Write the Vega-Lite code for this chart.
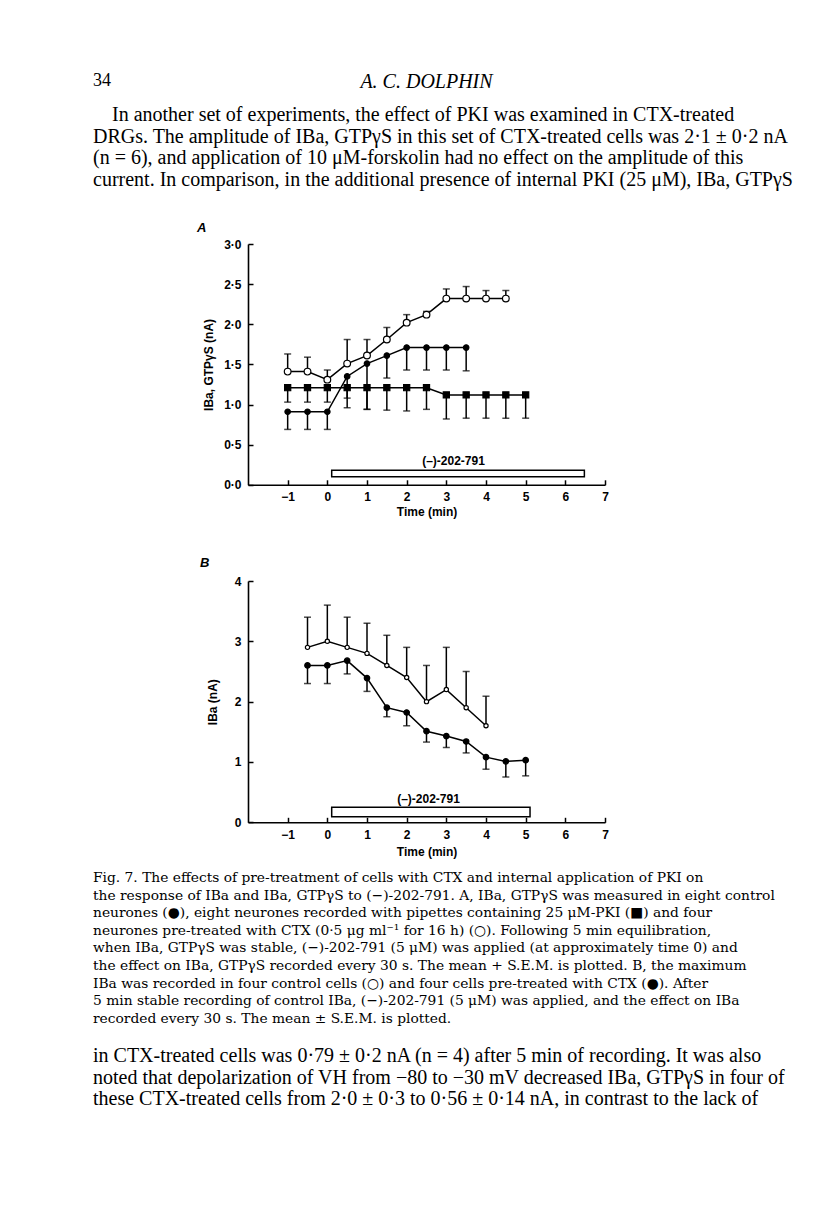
{
  "$schema": "https://vega.github.io/schema/vega-lite/v6.json",
  "background": "white",
  "padding": {"left": 93, "top": 72, "right": 0, "bottom": 0},
  "autosize": {"type": "pad"},
  "spacing": 0,
  "bounds": "flush",
  "center": true,
  "resolve": {"scale": {"fill": "independent", "shape": "independent", "size": "independent"}},
  "config": {
    "view": {"stroke": null},
    "axis": {
      "grid": false,
      "domainColor": "black",
      "domainWidth": 1.6,
      "tickColor": "black",
      "tickWidth": 1.5,
      "tickSize": -5,
      "labelFont": "Liberation Sans",
      "labelFontWeight": "bold",
      "labelFontSize": 12,
      "labelColor": "black",
      "labelPadding": 12,
      "labelFlush": false,
      "labelOverlap": false,
      "titleFont": "Liberation Sans",
      "titleFontWeight": "bold",
      "titleFontSize": 12,
      "titleColor": "black"
    }
  },
  "vconcat": [
    {
      "width": 667,
      "height": 32.6,
      "layer": [
        {
          "data": {"values": [{"txt": "34"}]},
          "mark": {"type": "text", "align": "left", "baseline": "top", "font": "Liberation Serif", "fontSize": 18, "color": "black"},
          "encoding": {"text": {"field": "txt"}, "x": {"value": 0}, "y": {"value": 0}}
        },
        {
          "data": {"values": [{"txt": "A. C. DOLPHIN"}]},
          "mark": {"type": "text", "align": "center", "baseline": "top", "font": "Liberation Serif", "fontStyle": "italic", "fontSize": 20, "color": "black"},
          "encoding": {"text": {"field": "txt"}, "y": {"value": 0}}
        }
      ]
    },
    {
      "width": 667,
      "height": 138.9,
      "layer": [
        {
          "data": {"values": [{"lines": [
            "In another set of experiments, the effect of PKI was examined in CTX-treated"
          ]}]},
          "mark": {"type": "text", "align": "left", "baseline": "top", "dx": 19, "font": "Liberation Serif", "fontSize": 20, "lineHeight": 21.7, "color": "black"},
          "encoding": {"text": {"field": "lines"}, "x": {"value": 0}, "y": {"value": 0}}
        },
        {
          "data": {"values": [{"lines": [
            "",
            "DRGs. The amplitude of IBa, GTPγS in this set of CTX-treated cells was 2·1 ± 0·2 nA",
            "(n = 6), and application of 10 μM-forskolin had no effect on the amplitude of this",
            "current. In comparison, in the additional presence of internal PKI (25 μM), IBa, GTPγS"
          ]}]},
          "mark": {"type": "text", "align": "left", "baseline": "top", "font": "Liberation Serif", "fontSize": 20, "lineHeight": 21.7, "color": "black"},
          "encoding": {"text": {"field": "lines"}, "x": {"value": 0}, "y": {"value": 0}}
        }
      ]
    },
    {
      "width": 357,
      "height": 240.8,
      "title": {"text": "A", "anchor": "start", "frame": "group", "dx": -51, "offset": 3, "font": "Liberation Sans", "fontSize": 13, "fontStyle": "italic", "fontWeight": "bold", "color": "black"},
      "layer": [
        {
          "data": {"values": [{"t": 0.11, "t2": 6.48, "v": 0.10, "v2": 0.18}]},
          "mark": {"type": "rect", "fill": "white", "stroke": "black", "strokeWidth": 1.5},
          "encoding": {
            "x": {"field": "t", "type": "quantitative", "scale": {"domain": [-2, 7], "nice": false, "zero": false}, "axis": {"values": [-1, 0, 1, 2, 3, 4, 5, 6, 7], "format": "d", "title": "Time (min)", "titlePadding": 4}},
            "x2": {"field": "t2"},
            "y": {"field": "v", "type": "quantitative", "scale": {"domain": [0, 3], "nice": false}, "axis": {"values": [0, 0.5, 1, 1.5, 2, 2.5, 3], "labelExpr": "replace(format(datum.value, '.1f'), '.', '·')", "title": "IBa, GTPγS (nA)", "titlePadding": 8}},
            "y2": {"field": "v2"}
          }
        },
        {
          "data": {"values": [{"t": 3.18, "v": 0.30, "label": "(–)-202-791"}]},
          "mark": {"type": "text", "font": "Liberation Sans", "fontWeight": "bold", "fontSize": 12, "color": "black"},
          "encoding": {
            "x": {"field": "t", "type": "quantitative"},
            "y": {"field": "v", "type": "quantitative"},
            "text": {"field": "label"}
          }
        },
        {
          "data": {"name": "A"},
          "layer": [
            {
              "mark": {"type": "line", "color": "black", "strokeWidth": 1.5},
              "encoding": {
                "x": {"field": "t", "type": "quantitative"},
                "y": {"field": "v", "type": "quantitative"},
                "detail": {"field": "s"}
              }
            },
            {
              "mark": {"type": "rule", "color": "black", "strokeWidth": 1.5},
              "encoding": {
                "x": {"field": "t", "type": "quantitative"},
                "y": {"field": "v", "type": "quantitative"},
                "y2": {"field": "e"}
              }
            },
            {
              "mark": {"type": "tick", "orient": "horizontal", "color": "black", "size": 7, "thickness": 1.5},
              "encoding": {
                "x": {"field": "t", "type": "quantitative"},
                "y": {"field": "e", "type": "quantitative", "title": "IBa, GTPγS (nA)"}
              }
            },
            {
              "mark": {"type": "point", "filled": true, "stroke": "black", "strokeWidth": 1.2, "opacity": 1},
              "encoding": {
                "x": {"field": "t", "type": "quantitative"},
                "y": {"field": "v", "type": "quantitative"},
                "shape": {"field": "s", "scale": {"domain": ["control", "PKI", "CTX"], "range": ["circle", "square", "circle"]}, "legend": null},
                "fill": {"field": "s", "scale": {"domain": ["control", "PKI", "CTX"], "range": ["black", "black", "white"]}, "legend": null},
                "size": {"field": "s", "scale": {"domain": ["control", "PKI", "CTX"], "range": [30, 45, 18]}, "legend": null}
              }
            }
          ]
        }
      ]
    },
    {
      "width": 667,
      "height": 95.4,
      "data": {"values": [{}]},
      "mark": {"type": "text"},
      "encoding": {"text": {"value": ""}}
    },
    {
      "width": 357,
      "height": 241.3,
      "title": {"text": "B", "anchor": "start", "frame": "group", "dx": -48, "offset": 5, "font": "Liberation Sans", "fontSize": 13, "fontStyle": "italic", "fontWeight": "bold", "color": "black"},
      "layer": [
        {
          "data": {"values": [{"t": 0.11, "t2": 5.11, "v": 0.09, "v2": 0.25}]},
          "mark": {"type": "rect", "fill": "white", "stroke": "black", "strokeWidth": 1.5},
          "encoding": {
            "x": {"field": "t", "type": "quantitative", "scale": {"domain": [-2, 7], "nice": false, "zero": false}, "axis": {"values": [-1, 0, 1, 2, 3, 4, 5, 6, 7], "format": "d", "title": "Time (min)", "titlePadding": 6}},
            "x2": {"field": "t2"},
            "y": {"field": "v", "type": "quantitative", "scale": {"domain": [0, 4], "nice": false}, "axis": {"values": [0, 1, 2, 3, 4], "format": "d", "title": "IBa (nA)", "titlePadding": 15}},
            "y2": {"field": "v2"}
          }
        },
        {
          "data": {"values": [{"t": 2.55, "v": 0.39, "label": "(–)-202-791"}]},
          "mark": {"type": "text", "font": "Liberation Sans", "fontWeight": "bold", "fontSize": 12, "color": "black"},
          "encoding": {
            "x": {"field": "t", "type": "quantitative"},
            "y": {"field": "v", "type": "quantitative"},
            "text": {"field": "label"}
          }
        },
        {
          "data": {"name": "B"},
          "layer": [
            {
              "mark": {"type": "line", "color": "black", "strokeWidth": 1.5},
              "encoding": {
                "x": {"field": "t", "type": "quantitative"},
                "y": {"field": "v", "type": "quantitative"},
                "detail": {"field": "s"}
              }
            },
            {
              "mark": {"type": "rule", "color": "black", "strokeWidth": 1.5},
              "encoding": {
                "x": {"field": "t", "type": "quantitative"},
                "y": {"field": "v", "type": "quantitative"},
                "y2": {"field": "e"}
              }
            },
            {
              "mark": {"type": "tick", "orient": "horizontal", "color": "black", "size": 7, "thickness": 1.5},
              "encoding": {
                "x": {"field": "t", "type": "quantitative"},
                "y": {"field": "e", "type": "quantitative", "title": "IBa (nA)"}
              }
            },
            {
              "mark": {"type": "point", "filled": true, "stroke": "black", "strokeWidth": 1.2, "opacity": 1},
              "encoding": {
                "x": {"field": "t", "type": "quantitative"},
                "y": {"field": "v", "type": "quantitative"},
                "shape": {"field": "s", "scale": {"domain": ["control", "CTX"], "range": ["circle", "circle"]}, "legend": null},
                "fill": {"field": "s", "scale": {"domain": ["control", "CTX"], "range": ["white", "black"]}, "legend": null},
                "size": {"field": "s", "scale": {"domain": ["control", "CTX"], "range": [18, 30]}, "legend": null}
              }
            }
          ]
        }
      ]
    },
    {
      "width": 667,
      "height": 48,
      "data": {"values": [{}]},
      "mark": {"type": "text"},
      "encoding": {"text": {"value": ""}}
    },
    {
      "width": 667,
      "height": 174.6,
      "data": {"values": [{"lines": [
        "Fig. 7. The effects of pre-treatment of cells with CTX and internal application of PKI on",
        "the response of IBa and IBa, GTPγS to (−)-202-791. A, IBa, GTPγS was measured in eight control",
        "neurones (●), eight neurones recorded with pipettes containing 25 μM-PKI (■) and four",
        "neurones pre-treated with CTX (0·5 μg ml⁻¹ for 16 h) (○). Following 5 min equilibration,",
        "when IBa, GTPγS was stable, (−)-202-791 (5 μM) was applied (at approximately time 0) and",
        "the effect on IBa, GTPγS recorded every 30 s. The mean + S.E.M. is plotted. B, the maximum",
        "IBa was recorded in four control cells (○) and four cells pre-treated with CTX (●). After",
        "5 min stable recording of control IBa, (−)-202-791 (5 μM) was applied, and the effect on IBa",
        "recorded every 30 s. The mean ± S.E.M. is plotted."
      ]}]},
      "mark": {"type": "text", "align": "left", "baseline": "top", "font": "DejaVu Serif", "fontSize": 13.8, "lineHeight": 17.6, "color": "black"},
      "encoding": {"text": {"field": "lines"}, "x": {"value": 0}, "y": {"value": 0}}
    },
    {
      "width": 667,
      "height": 162.4,
      "data": {"values": [{"lines": [
        "in CTX-treated cells was 0·79 ± 0·2 nA (n = 4) after 5 min of recording. It was also",
        "noted that depolarization of VH from −80 to −30 mV decreased IBa, GTPγS in four of",
        "these CTX-treated cells from 2·0 ± 0·3 to 0·56 ± 0·14 nA, in contrast to the lack of"
      ]}]},
      "mark": {"type": "text", "align": "left", "baseline": "top", "font": "Liberation Serif", "fontSize": 20, "lineHeight": 21.7, "color": "black"},
      "encoding": {"text": {"field": "lines"}, "x": {"value": 0}, "y": {"value": 0}}
    }
  ],
  "datasets": {
    "A": [
      {"s": "control", "t": -1, "v": 0.91, "e": 0.69},
      {"s": "control", "t": -0.5, "v": 0.91, "e": 0.69},
      {"s": "control", "t": 0, "v": 0.91, "e": 0.69},
      {"s": "control", "t": 0.5, "v": 1.35, "e": 1.08},
      {"s": "control", "t": 1, "v": 1.51, "e": 0.94},
      {"s": "control", "t": 1.5, "v": 1.61, "e": 1.33},
      {"s": "control", "t": 2, "v": 1.71, "e": 1.43},
      {"s": "control", "t": 2.5, "v": 1.71, "e": 1.43},
      {"s": "control", "t": 3, "v": 1.71, "e": 1.43},
      {"s": "control", "t": 3.5, "v": 1.71, "e": 1.42},
      {"s": "PKI", "t": -1, "v": 1.21, "e": 1.03},
      {"s": "PKI", "t": -0.5, "v": 1.21, "e": 1.03},
      {"s": "PKI", "t": 0, "v": 1.21, "e": 1.03},
      {"s": "PKI", "t": 0.5, "v": 1.21, "e": 0.96},
      {"s": "PKI", "t": 1, "v": 1.21, "e": 0.94},
      {"s": "PKI", "t": 1.5, "v": 1.21, "e": 0.93},
      {"s": "PKI", "t": 2, "v": 1.21, "e": 0.92},
      {"s": "PKI", "t": 2.5, "v": 1.21, "e": 0.94},
      {"s": "PKI", "t": 3, "v": 1.12, "e": 0.82},
      {"s": "PKI", "t": 3.5, "v": 1.12, "e": 0.83},
      {"s": "PKI", "t": 4, "v": 1.12, "e": 0.83},
      {"s": "PKI", "t": 4.5, "v": 1.12, "e": 0.83},
      {"s": "PKI", "t": 5, "v": 1.12, "e": 0.83},
      {"s": "CTX", "t": -1, "v": 1.41, "e": 1.63},
      {"s": "CTX", "t": -0.5, "v": 1.41, "e": 1.59},
      {"s": "CTX", "t": 0, "v": 1.31, "e": 1.43},
      {"s": "CTX", "t": 0.5, "v": 1.51, "e": 1.81},
      {"s": "CTX", "t": 1, "v": 1.61, "e": 1.81},
      {"s": "CTX", "t": 1.5, "v": 1.81, "e": 1.96},
      {"s": "CTX", "t": 2, "v": 2.02, "e": 2.12},
      {"s": "CTX", "t": 2.5, "v": 2.12, "e": 2.16},
      {"s": "CTX", "t": 3, "v": 2.32, "e": 2.44},
      {"s": "CTX", "t": 3.5, "v": 2.32, "e": 2.47},
      {"s": "CTX", "t": 4, "v": 2.32, "e": 2.42},
      {"s": "CTX", "t": 4.5, "v": 2.32, "e": 2.42}
    ],
    "B": [
      {"s": "control", "t": -0.5, "v": 2.90, "e": 3.40},
      {"s": "control", "t": 0, "v": 3.00, "e": 3.60},
      {"s": "control", "t": 0.5, "v": 2.90, "e": 3.40},
      {"s": "control", "t": 1, "v": 2.80, "e": 3.30},
      {"s": "control", "t": 1.5, "v": 2.60, "e": 3.10},
      {"s": "control", "t": 2, "v": 2.40, "e": 2.90},
      {"s": "control", "t": 2.5, "v": 2.00, "e": 2.60},
      {"s": "control", "t": 3, "v": 2.20, "e": 2.90},
      {"s": "control", "t": 3.5, "v": 1.90, "e": 2.50},
      {"s": "control", "t": 4, "v": 1.60, "e": 2.09},
      {"s": "CTX", "t": -0.5, "v": 2.60, "e": 2.30},
      {"s": "CTX", "t": 0, "v": 2.60, "e": 2.30},
      {"s": "CTX", "t": 0.5, "v": 2.68, "e": 2.46},
      {"s": "CTX", "t": 1, "v": 2.39, "e": 2.17},
      {"s": "CTX", "t": 1.5, "v": 1.90, "e": 1.75},
      {"s": "CTX", "t": 2, "v": 1.82, "e": 1.60},
      {"s": "CTX", "t": 2.5, "v": 1.51, "e": 1.33},
      {"s": "CTX", "t": 3, "v": 1.43, "e": 1.24},
      {"s": "CTX", "t": 3.5, "v": 1.34, "e": 1.15},
      {"s": "CTX", "t": 4, "v": 1.08, "e": 0.88},
      {"s": "CTX", "t": 4.5, "v": 1.01, "e": 0.75},
      {"s": "CTX", "t": 5, "v": 1.03, "e": 0.77}
    ]
  }
}
